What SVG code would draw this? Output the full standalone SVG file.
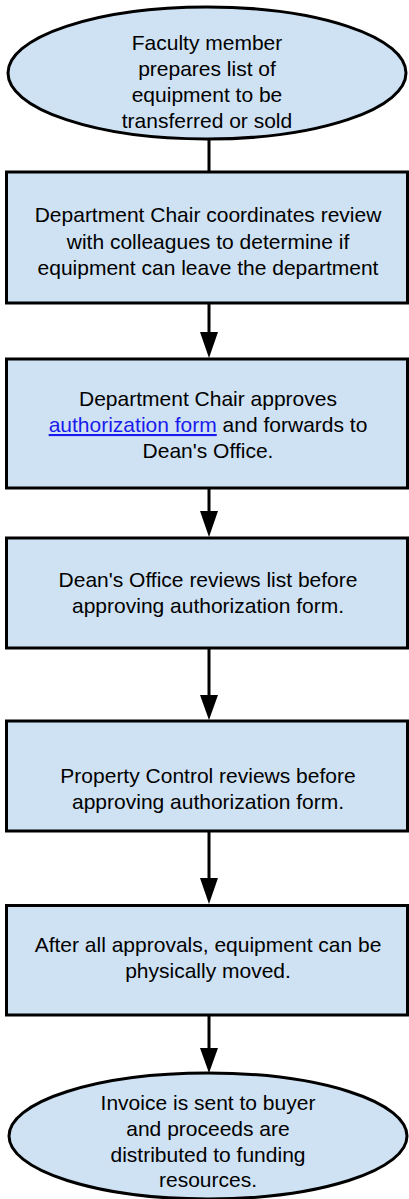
<svg xmlns="http://www.w3.org/2000/svg" width="409" height="1199" viewBox="0 0 409 1199">
<style>
.shape{fill:#cfe2f3;stroke:#000;stroke-width:3}
.t{font-family:"Liberation Sans",Arial,sans-serif;font-size:21px;fill:#000;text-anchor:middle}
.link{fill:#1a1aee;text-decoration:underline}
.conn{stroke:#000;stroke-width:3;fill:none}
.head{fill:#000;stroke:none}
</style>
<rect width="409" height="1199" fill="#fff"/>
<g id="connectors">
<line class="conn" x1="209" y1="139" x2="209" y2="172"/>
<line class="conn" x1="209" y1="303" x2="209" y2="334"/>
<polygon class="head" points="200,332 218,332 209,358"/>
<line class="conn" x1="209" y1="488" x2="209" y2="513"/>
<polygon class="head" points="200,511 218,511 209,537"/>
<line class="conn" x1="209" y1="648" x2="209" y2="697"/>
<polygon class="head" points="200,695 218,695 209,720"/>
<line class="conn" x1="209" y1="831" x2="209" y2="880"/>
<polygon class="head" points="200,878 218,878 209,904"/>
<line class="conn" x1="209" y1="1015" x2="209" y2="1050"/>
<polygon class="head" points="200,1048 218,1048 209,1073"/>
</g>
<g id="start">
<ellipse class="shape" cx="207" cy="73" rx="199" ry="66"/>
<text class="t" x="207" y="50">Faculty member</text>
<text class="t" x="207" y="76">prepares list of</text>
<text class="t" x="207" y="102">equipment to be</text>
<text class="t" x="207" y="128">transferred or sold</text>
</g>
<g id="chair-review">
<rect class="shape" x="6.5" y="172" width="401" height="131"/>
<text class="t" x="208" y="222">Department Chair coordinates review</text>
<text class="t" x="208" y="248.5">with colleagues to determine if</text>
<text class="t" x="208" y="275">equipment can leave the department</text>
</g>
<g id="chair-approves">
<rect class="shape" x="6.5" y="359" width="401" height="129"/>
<text class="t" x="208" y="406">Department Chair approves</text>
<text class="t" x="208" y="432"><tspan class="link">authorization form</tspan> and forwards to</text>
<text class="t" x="208" y="457.5">Dean's Office.</text>
</g>
<g id="deans-office">
<rect class="shape" x="6.5" y="538" width="401" height="110"/>
<text class="t" x="208" y="587">Dean's Office reviews list before</text>
<text class="t" x="208" y="613">approving authorization form.</text>
</g>
<g id="property-control">
<rect class="shape" x="6.5" y="721" width="401" height="110"/>
<text class="t" x="208" y="783">Property Control reviews before</text>
<text class="t" x="208" y="809">approving authorization form.</text>
</g>
<g id="moved">
<rect class="shape" x="6.5" y="905.5" width="401" height="109.5"/>
<text class="t" x="208" y="952">After all approvals, equipment can be</text>
<text class="t" x="208" y="978">physically moved.</text>
</g>
<g id="invoice">
<ellipse class="shape" cx="208" cy="1136" rx="199" ry="63"/>
<text class="t" x="208" y="1110">Invoice is sent to buyer</text>
<text class="t" x="208" y="1136">and proceeds are</text>
<text class="t" x="208" y="1162">distributed to funding</text>
<text class="t" x="208" y="1187">resources.</text>
</g>
</svg>
